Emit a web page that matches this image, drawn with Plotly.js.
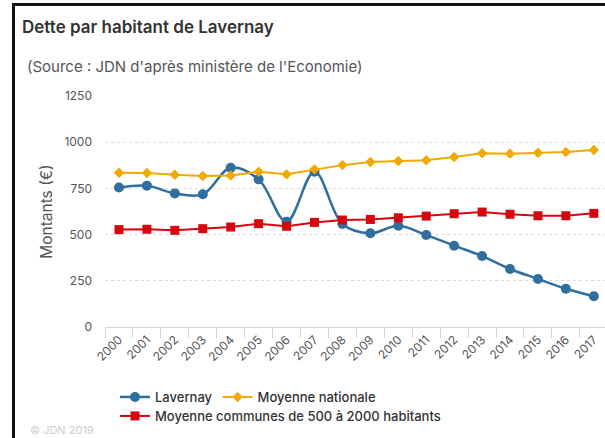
<!DOCTYPE html>
<html><head><meta charset="utf-8">
<script src="https://cdn.plot.ly/plotly-3.0.1.min.js"></script>
<style>
html,body{margin:0;padding:0;background:#fff;}
#wrap{position:relative;width:605px;height:438px;overflow:hidden;}
#chart{width:605px;height:438px;}
#frame{position:absolute;left:12px;top:3px;width:600px;height:440px;border-left:3px solid #111;border-top:3px solid #111;pointer-events:none;}
</style></head>
<body>
<div id="wrap"><div id="chart"></div><div id="frame"></div></div>
<script>
const years = ["2000","2001","2002","2003","2004","2005","2006","2007","2008","2009","2010","2011","2012","2013","2014","2015","2016","2017"];
const lavernay = [755,765,723,718,862,799,570,840,557,507,548,498,440,384,314,260,207,166];
const moyenneNationale = [835,833,824,817,820,840,826,853,876,893,898,902,920,940,938,943,947,958];
const moyenneCommunes = [527,529,523,532,541,559,545,566,579,582,591,600,613,622,610,602,602,615];
const yTicks = [0,250,500,750,1000,1250];

const font = "Inter, 'Open Sans', sans-serif";
const traces = [
  {x: years, y: lavernay, name: "Lavernay", type: "scatter", mode: "lines+markers", legend: "legend",
   line: {color: "#2f6f9f", width: 2.5, shape: "spline", smoothing: 1},
   marker: {symbol: "circle", size: 10, color: "#2f6f9f"}},
  {x: years, y: moyenneNationale, name: "Moyenne nationale", type: "scatter", mode: "lines+markers", legend: "legend",
   line: {color: "#f1a900", width: 2},
   marker: {symbol: "diamond", size: 8, color: "#f1a900"}},
  {x: years, y: moyenneCommunes, name: "Moyenne communes de 500 à 2000 habitants", type: "scatter", mode: "lines+markers", legend: "legend2",
   line: {color: "#d4070f", width: 2},
   marker: {symbol: "square", size: 9, color: "#d4070f"}}
];
const legendBase = {orientation: "h", xref: "container", yref: "container", x: 115/605, xanchor: "left",
  yanchor: "middle", font: {family: font, size: 13, color: "#333", weight: 500},
  itemwidth: 30, bgcolor: "rgba(0,0,0,0)"};
const layout = {
  width: 605, height: 438,
  margin: {l: 105, r: 0, t: 96, b: 111},
  paper_bgcolor: "#fff", plot_bgcolor: "#fff",
  font: {family: font, color: "#444"},
  title: {text: "Dette par habitant de Lavernay", xref: "container", yref: "container",
          x: 22/605, xanchor: "left", y: 1 - 27/438, yanchor: "middle",
          font: {family: font, size: 17, color: "#333", weight: 600}},
  xaxis: {type: "category", range: [-0.5, 17.4], tickson: "boundaries", ticks: "outside",
          ticklen: 10, tickcolor: "#ccd6eb", showline: true, linecolor: "#ccd6eb", linewidth: 1,
          showgrid: false, tickangle: -45, tickfont: {size: 12, color: "#555"}, fixedrange: true},
  yaxis: {range: [0, 1250], tickvals: yTicks, ticktext: yTicks.map(String), showgrid: true,
          gridcolor: "#dcdcdc", griddash: "dot", zeroline: false, showline: false,
          ticklabelstandoff: 12, tickfont: {size: 12, color: "#555"},
          title: {text: "Montants (€)", font: {size: 15.5, color: "#555"}, standoff: 7}},
  showlegend: true,
  legend: Object.assign({}, legendBase, {y: 1 - 397/438}),
  legend2: Object.assign({}, legendBase, {y: 1 - 416/438}),
  annotations: [
    {text: "(Source : JDN d'après ministère de l'Economie)", xref: "paper", yref: "paper",
     x: -80/500, xanchor: "left", y: 1 + (96-67)/231, yanchor: "middle", showarrow: false,
     font: {family: font, size: 15, color: "#555"}},
    {text: "© JDN 2019", xref: "paper", yref: "paper", x: -77/500, xanchor: "left",
     y: (327-430)/231, yanchor: "middle", showarrow: false,
     font: {family: font, size: 11, color: "#ccc"}}
  ]
};
Plotly.newPlot("chart", traces, layout, {displayModeBar: false, staticPlot: true});
</script>
</body></html>
